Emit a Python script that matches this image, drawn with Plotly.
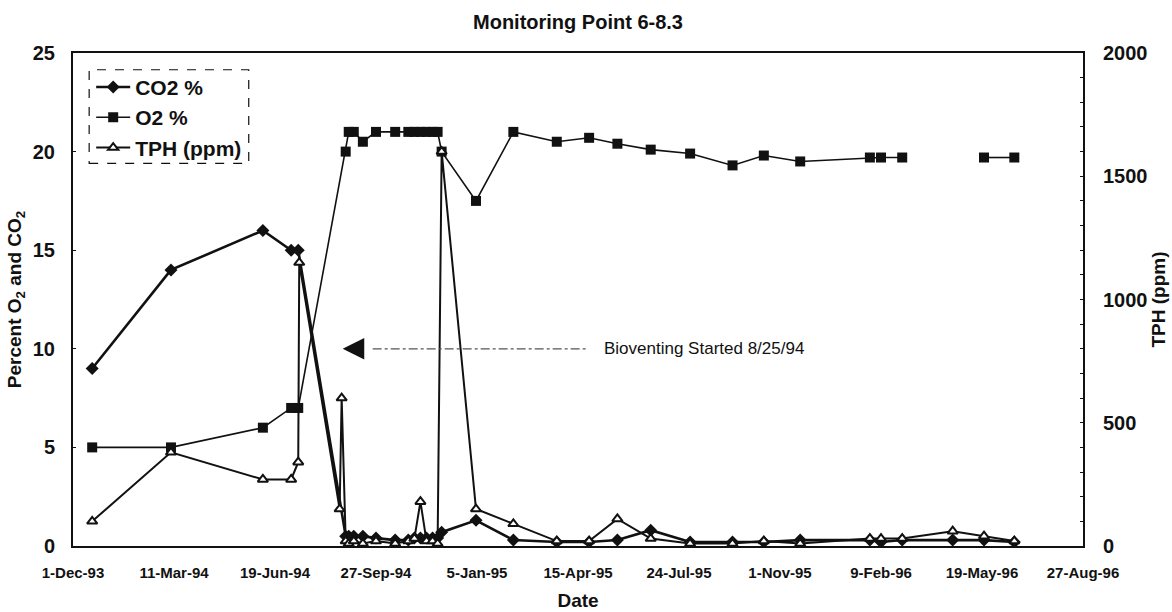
import plotly.graph_objects as go

# CO2 (%) readings
co2_dates = ["1993-12-20", "1994-03-08", "1994-06-07", "1994-07-05", "1994-07-12",
             "1994-08-28", "1994-08-31", "1994-09-05", "1994-09-14", "1994-09-27",
             "1994-10-16", "1994-10-29", "1994-11-04", "1994-11-10", "1994-11-16",
             "1994-11-22", "1994-11-27", "1994-12-01", "1995-01-04", "1995-02-10",
             "1995-03-25", "1995-04-26", "1995-05-24", "1995-06-26", "1995-08-04",
             "1995-09-15", "1995-10-16", "1995-11-21", "1996-01-29", "1996-02-09",
             "1996-03-01", "1996-04-20", "1996-05-21", "1996-06-20"]
co2_pct = [9, 14, 16, 15, 15,
           0.5, 0.5, 0.5, 0.5, 0.4,
           0.3, 0.3, 0.4, 0.4, 0.4,
           0.4, 0.4, 0.7, 1.3, 0.3,
           0.2, 0.2, 0.3, 0.8, 0.2,
           0.2, 0.2, 0.3, 0.3, 0.2,
           0.3, 0.3, 0.3, 0.2]

# O2 (%) readings; None = not measured
o2_dates = ["1993-12-20", "1994-03-08", "1994-06-07", "1994-07-05", "1994-07-12",
            "1994-08-28", "1994-08-31", "1994-09-05", "1994-09-14", "1994-09-27",
            "1994-10-16", "1994-10-29", "1994-11-04", "1994-11-10", "1994-11-16",
            "1994-11-22", "1994-11-27", "1994-12-01", "1995-01-04", "1995-02-10",
            "1995-03-25", "1995-04-26", "1995-05-24", "1995-06-26", "1995-08-04",
            "1995-09-15", "1995-10-16", "1995-11-21", "1996-01-29", "1996-02-09",
            "1996-03-01", "1996-04-20", "1996-05-21", "1996-06-20"]
o2_pct = [5, 5, 6, 7, 7,
          20, 21, 21, 20.5, 21,
          21, 21, 21, 21, 21,
          21, 21, 20, 17.5, 21,
          20.5, 20.7, 20.4, 20.1, 19.9,
          19.3, 19.8, 19.5, 19.7, 19.7,
          19.7, None, 19.7, 19.7]

# TPH (ppm) readings
tph_dates = ["1993-12-20", "1994-03-08", "1994-06-07", "1994-07-05", "1994-07-12",
             "1994-07-13", "1994-08-22", "1994-08-24", "1994-08-28", "1994-08-31",
             "1994-09-05", "1994-09-14", "1994-09-27", "1994-10-16", "1994-10-29",
             "1994-11-04", "1994-11-10", "1994-11-16", "1994-11-22", "1994-11-27",
             "1994-12-01", "1995-01-04", "1995-02-10", "1995-03-25", "1995-04-26",
             "1995-05-24", "1995-06-26", "1995-08-04", "1995-09-15", "1995-10-16",
             "1995-11-21", "1996-01-29", "1996-02-09", "1996-03-01", "1996-04-20",
             "1996-05-21", "1996-06-20"]
tph_ppm = [100, 380, 270, 270, 340,
           1150, 150, 600, 20, 10,
           20, 10, 20, 10, 20,
           30, 180, 20, 20, 10,
           1600, 150, 90, 20, 20,
           110, 30, 10, 10, 20,
           10, 30, 30, 30, 60,
           40, 20]

x_tick_dates = ["1993-12-01", "1994-03-11", "1994-06-19", "1994-09-27", "1995-01-05",
                "1995-04-15", "1995-07-24", "1995-11-01", "1996-02-09", "1996-05-19",
                "1996-08-27"]
x_tick_labels = ["1-Dec-93", "11-Mar-94", "19-Jun-94", "27-Sep-94", "5-Jan-95",
                 "15-Apr-95", "24-Jul-95", "1-Nov-95", "9-Feb-96", "19-May-96",
                 "27-Aug-96"]

pct_ticks = [0, 5, 10, 15, 20, 25]
tph_ticks = [0, 500, 1000, 1500, 2000]

bioventing_start = "1994-08-25"
bioventing_label = "Bioventing Started 8/25/94"
arrow_level = 10

FONT = "Liberation Sans, Arial, sans-serif"
INK = "#111111"

fig = go.Figure()

fig.add_trace(go.Scatter(
    x=co2_dates, y=co2_pct, name="CO2 %", mode="lines+markers",
    line=dict(color=INK, width=2.6),
    marker=dict(symbol="diamond", size=10, color=INK),
))
fig.add_trace(go.Scatter(
    x=o2_dates, y=o2_pct, name="O2 %", mode="lines+markers",
    line=dict(color=INK, width=1.6), connectgaps=False,
    marker=dict(symbol="square", size=10, color=INK),
))
fig.add_trace(go.Scatter(
    x=tph_dates, y=tph_ppm, name="TPH (ppm)", mode="lines+markers", yaxis="y2",
    line=dict(color=INK, width=2),
    marker=dict(symbol="triangle-up", size=9, color="white",
                line=dict(color=INK, width=2)),
))

fig.update_layout(
    width=1172, height=612,
    margin=dict(l=73, r=89, t=53, b=66, autoexpand=False),
    paper_bgcolor="white", plot_bgcolor="white",
    font=dict(family=FONT, color=INK, size=18, weight="bold"),
    title=dict(text="Monitoring Point 6-8.3", x=0.5, xref="paper", xanchor="center",
               y=1 - 22 / 612, yref="container", yanchor="middle",
               automargin=False, font=dict(size=20, weight="bold")),
    showlegend=True,
    legend=dict(x=0.018, y=0.972, xanchor="left", yanchor="top",
                bgcolor="rgba(0,0,0,0)", borderwidth=0,
                font=dict(size=21, weight="bold"), tracegroupgap=0,
                itemwidth=34),
    xaxis=dict(
        type="date", range=["1993-12-01", "1996-08-27"],
        tickvals=x_tick_dates, ticktext=x_tick_labels,
        tickfont=dict(size=15, weight="bold"),
        showgrid=False, zeroline=False, automargin=False,
        showline=True, linecolor=INK, linewidth=2, mirror=True,
        ticks="", ticklabelstandoff=12,
        title=dict(text="Date", font=dict(size=19, weight="bold"), standoff=14),
    ),
    yaxis=dict(
        range=[0, 25], tickvals=pct_ticks,
        tickfont=dict(size=20, weight="bold"),
        showgrid=False, zeroline=False, automargin=False,
        showline=True, linecolor=INK, linewidth=2,
        ticks="inside", ticklen=3, tickcolor=INK, ticklabelstandoff=12,
        title=dict(text="Percent O<sub>2</sub> and CO<sub>2</sub>",
                   font=dict(size=19, weight="bold"), standoff=6),
    ),
    yaxis2=dict(
        range=[0, 2000], tickvals=tph_ticks, overlaying="y", side="right",
        tickfont=dict(size=20, weight="bold"),
        showgrid=False, zeroline=False, automargin=False,
        showline=True, linecolor=INK, linewidth=2,
        ticks="inside", ticklen=3, tickcolor=INK, ticklabelstandoff=14,
        minor=dict(dtick=100, ticks="inside", ticklen=3, tickcolor=INK),
        title=dict(text="TPH (ppm)", font=dict(size=19, weight="bold"), standoff=4),
    ),
    shapes=[
        # dashed frame around the legend
        dict(type="rect", xref="paper", yref="paper",
             x0=0.016, x1=0.174, y0=0.776, y1=0.966,
             line=dict(color=INK, width=1.2, dash="dash")),
        # dash-dot leader from the label back to the arrowhead
        dict(type="line", xref="x", yref="y", xsizemode="pixel",
             xanchor=bioventing_start, x0=30, x1=245, y0=arrow_level, y1=arrow_level,
             line=dict(color="#555555", width=1.2, dash="dashdot")),
    ],
    annotations=[
        # filled arrowhead pointing at the bioventing start
        dict(x=bioventing_start, y=arrow_level, xref="x", yref="y",
             ax=22, ay=0, axref="pixel", ayref="pixel", text="",
             showarrow=True, arrowhead=2, arrowsize=3.6, arrowwidth=1.2,
             arrowcolor=INK, standoff=0),
        dict(x=bioventing_start, y=arrow_level, xref="x", yref="y",
             text=bioventing_label, showarrow=False, xanchor="right",
             xshift=463, font=dict(size=17, weight="normal")),
    ],
)

fig.write_html("out.html")
